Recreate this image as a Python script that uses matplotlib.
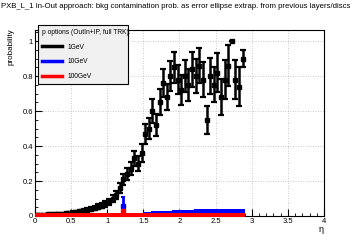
import numpy as np
import matplotlib
matplotlib.use("Agg")
import matplotlib.pyplot as plt
from matplotlib.ticker import MultipleLocator, FixedFormatter, FixedLocator

# ---- data ----
eta = [0.025 + 0.05 * i for i in range(58)]
p_1gev = [0.006, 0.007, 0.008, 0.009, 0.010, 0.011, 0.012, 0.013, 0.015, 0.017,
          0.020, 0.023, 0.026, 0.030, 0.035,
          0.040, 0.046, 0.053, 0.060, 0.070,
          0.08, 0.10, 0.12, 0.16, 0.21,
          0.24, 0.27, 0.33, 0.30, 0.36,
          0.47, 0.50, 0.60, 0.52, 0.65,
          0.76, 0.68, 0.80, 0.85, 0.78,
          0.72, 0.80, 0.75, 0.84, 0.80,
          0.86, 0.78, 0.55, 0.80, 0.75,
          0.82, 0.68, 0.78, 0.86, 1.00,
          0.78, 0.74, 0.90]
e_1gev = [0.004, 0.004, 0.004, 0.004, 0.004, 0.005, 0.005, 0.005, 0.005, 0.006,
          0.006, 0.007, 0.008, 0.009, 0.010,
          0.011, 0.012, 0.013, 0.015, 0.017,
          0.019, 0.021, 0.024, 0.027, 0.031,
          0.034, 0.038, 0.043, 0.043, 0.050,
          0.056, 0.062, 0.068, 0.064, 0.074,
          0.080, 0.076, 0.086, 0.088, 0.082,
          0.088, 0.094, 0.090, 0.100, 0.096,
          0.100, 0.100, 0.080, 0.105, 0.100,
          0.110, 0.105, 0.110, 0.115, 0.0,
          0.110, 0.110, 0.050]
p_10gev = [0.0] * 24 + [0.055] + [0.0] * 5 + [0.024, 0.025, 0.026, 0.027, 0.028,
           0.029, 0.030, 0.031, 0.033, 0.034,
           0.035, 0.036, 0.036, 0.037, 0.038,
           0.039, 0.040, 0.040, 0.041, 0.041,
           0.041, 0.041, 0.040, 0.040, 0.040,
           0.039, 0.039, 0.038]
e_10gev = [0.0] * 24 + [0.055] + [0.0] * 33
p_100gev = [0.0] * 24 + [0.03] + [0.0] * 33

labels = ["1GeV", "10GeV", "100GeV"]
colors = ["black", "blue", "red"]
xticks = [0, 0.5, 1, 1.5, 2, 2.5, 3, 3.5, 4]
xticklabels = ["0", "0.5", "1", "1.5", "2", "2.5", "3", "3.5", "4"]
yticks = [0, 0.2, 0.4, 0.6, 0.8, 1.0]
yticklabels = ["0", "0.2", "0.4", "0.6", "0.8", "1"]

plt.rcParams['font.family'] = ['Liberation Sans', 'DejaVu Sans']

fig = plt.figure(figsize=(3.6, 2.4), dpi=100)
ax = fig.add_axes([0.097, 0.1, 0.803, 0.775])
ax.set_xlim(0, 4)
ax.set_ylim(0, 1.063)

ax.grid(True, color="#b8b8b8", linestyle=(0, (1, 2)), linewidth=0.6)
ax.set_axisbelow(True)

# blue 10 GeV: bars from zero
ax.bar(eta[30:], p_10gev[30:], width=0.05, color=colors[1], zorder=2.4)
ax.errorbar(eta[24:25], p_10gev[24:25], yerr=e_10gev[24:25], fmt="s",
            color=colors[1], ms=2.5, elinewidth=2, capsize=1.5, capthick=1.5,
            zorder=2.5)
# black 1 GeV
ax.errorbar(eta, p_1gev, yerr=e_1gev, fmt="s", color=colors[0], ms=3.4,
            elinewidth=1.8, capsize=2.2, capthick=1.6, zorder=2)
# red 100 GeV: thick band at zero plus small spike
ax.errorbar(eta[24:25], p_100gev[24:25], fmt="s", color=colors[2], ms=2.5,
            zorder=3.5)
ax.bar(eta, [0.026] * len(eta), width=0.05, bottom=-0.008, color=colors[2],
       zorder=3.5, clip_on=False)

ax.xaxis.set_major_locator(FixedLocator(xticks))
ax.xaxis.set_major_formatter(FixedFormatter(xticklabels))
ax.yaxis.set_major_locator(FixedLocator(yticks))
ax.yaxis.set_major_formatter(FixedFormatter(yticklabels))
ax.xaxis.set_minor_locator(MultipleLocator(0.1))
ax.yaxis.set_minor_locator(MultipleLocator(0.05))
ax.tick_params(which="both", direction="in", labelsize=5.5, pad=1.5)
ax.tick_params(which="major", length=5, width=0.8)
ax.tick_params(which="minor", length=2.5, width=0.6)
for s in ax.spines.values():
    s.set_linewidth(0.8)

fig.text(0.9, 0.035, "η", fontsize=6.5, ha="right")
fig.text(0.03, 0.88, "probability", fontsize=5.8, rotation=90, ha="center", va="top")
fig.text(0.004, 0.975, "PXB_L_1 In-Out approach: bkg contamination prob. as error ellipse extrap. from previous layers/discs",
         fontsize=5.55, ha="left", va="center")

handles = [plt.Line2D([], [], color=c, lw=2.5) for c in colors]
leg = ax.legend(handles, labels, title="p options (OutIn+IP, full TRK):",
                loc="upper left", bbox_to_anchor=(0.105, 0.658, 0.25, 0.238),
                bbox_transform=fig.transFigure, mode="expand", fontsize=4.8,
                title_fontsize=4.8, fancybox=False, framealpha=1,
                facecolor="#f0f0f0", edgecolor="black", handlelength=3,
                borderaxespad=0, labelspacing=1.15, alignment="left",
                borderpad=0.6)
leg.get_frame().set_linewidth(0.8)
leg.set_zorder(10)

fig.savefig("out.png", dpi=100)
